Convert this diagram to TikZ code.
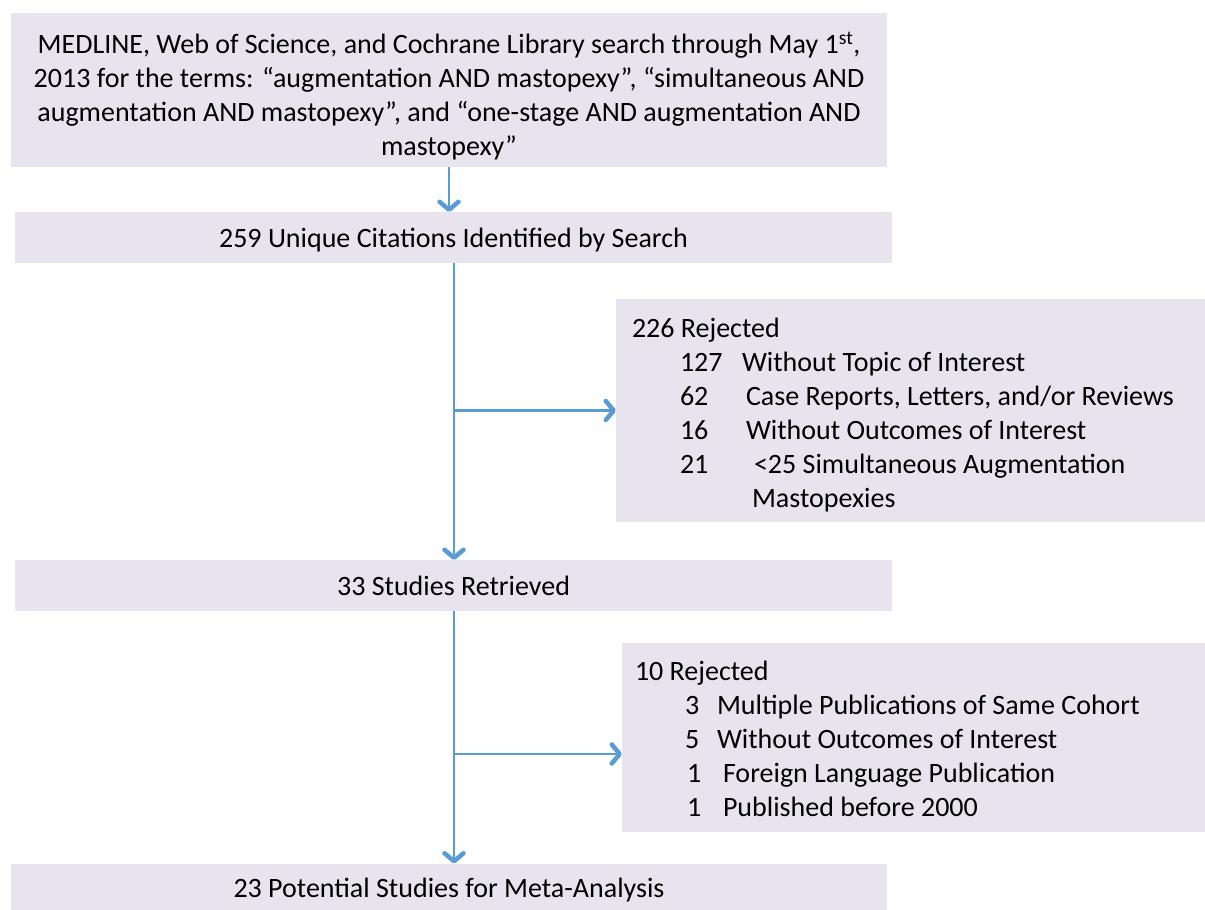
\documentclass[tikz,border=0pt]{standalone}
\usepackage{fontspec}
\setmainfont{Carlito}
\usetikzlibrary{arrows.meta}
\definecolor{boxfill}{RGB}{231,228,238}
\definecolor{arrowblue}{RGB}{91,155,213}
\begin{document}
\begin{tikzpicture}[x=1pt,y=-1pt,
  font=\fontsize{28}{34}\selectfont,
  box/.style={fill=boxfill, draw=none, inner sep=0pt, outer sep=0pt},
  low/.style={text height=26pt, text depth=6pt},
  txt/.style={anchor=base west, inner sep=0pt, outer sep=0pt},
  arr/.style={draw=arrowblue, line width=2.5pt,
    -{Straight Barb[length=8pt,width=19pt,line width=4.5pt,round]}}]
\useasboundingbox (0,0) rectangle (1205,910);
\fill[white] (0,0) rectangle (1205,910);

\node[box, minimum width=876pt, minimum height=154pt] (b1) at (449,90) {};
\node[inner sep=0pt, align=center] (b1t) at (449,96.5)
  {MEDLINE, Web of Science, and Cochrane Library search through May 1\textsuperscript{st},\\
   2013 for the terms: “augmentation AND mastopexy”, “simultaneous AND\\
   augmentation AND mastopexy”, and “one-stage AND augmentation AND\\
   mastopexy”};
\node[box, low, minimum width=877pt, minimum height=51pt] (b2) at (453.5,237.5)
  {259 Unique Citations Identified by Search};
\node[box, minimum width=589pt, minimum height=223pt] (b3) at (910.5,410.5) {};
\node[box, low, minimum width=877pt, minimum height=51pt] (b4) at (453.5,585.5)
  {33 Studies Retrieved};
\node[box, minimum width=583pt, minimum height=189pt] (b5) at (913.5,737.5) {};
\node[box, low, minimum width=876pt, minimum height=47pt] (b6) at (449,887)
  {23 Potential Studies for Meta-Analysis};

% rejected list 1
\node[txt] (r0) at (632,337) {226 Rejected};
\node[txt] (r1n) at (680,371) {127};
\node[txt] (r1t) at (742,371) {Without Topic of Interest};
\node[txt] (r2n) at (680,405) {62};
\node[txt] (r2t) at (746,405) {Case Reports, Letters, and/or Reviews};
\node[txt] (r3n) at (680,439) {16};
\node[txt] (r3t) at (746,439) {Without Outcomes of Interest};
\node[txt] (r4n) at (680,473) {21};
\node[txt] (r4t) at (754,473) {<25 Simultaneous Augmentation};
\node[txt] (r4u) at (752,507) {Mastopexies};

% rejected list 2
\node[txt] (s0) at (635,680) {10 Rejected};
\node[txt] (s1n) at (685,714) {3};
\node[txt] (s1t) at (717,714) {Multiple Publications of Same Cohort};
\node[txt] (s2n) at (685,748) {5};
\node[txt] (s2t) at (717,748) {Without Outcomes of Interest};
\node[txt] (s3n) at (687,782) {1};
\node[txt] (s3t) at (723,782) {Foreign Language Publication};
\node[txt] (s4n) at (687,816) {1};
\node[txt] (s4t) at (723,816) {Published before 2000};

% connectors
\draw[arr] (b1.south) -- (b1.south |- b2.north);
\coordinate (j1) at ([xshift=0.5pt]b2.south |- b3.west);
\coordinate (j2) at ([xshift=0.5pt]b4.south |- 0,754);
\draw[arr] ([xshift=0.5pt]b2.south) -- ([xshift=0.5pt]b4.north);
\draw[arr] (j1) -- (j1 -| b3.west);
\draw[arr] ([xshift=0.5pt]b4.south) -- (j2 |- b6.north);
\draw[arr] (j2) -- (j2 -| b5.west);
\end{tikzpicture}
\end{document}
